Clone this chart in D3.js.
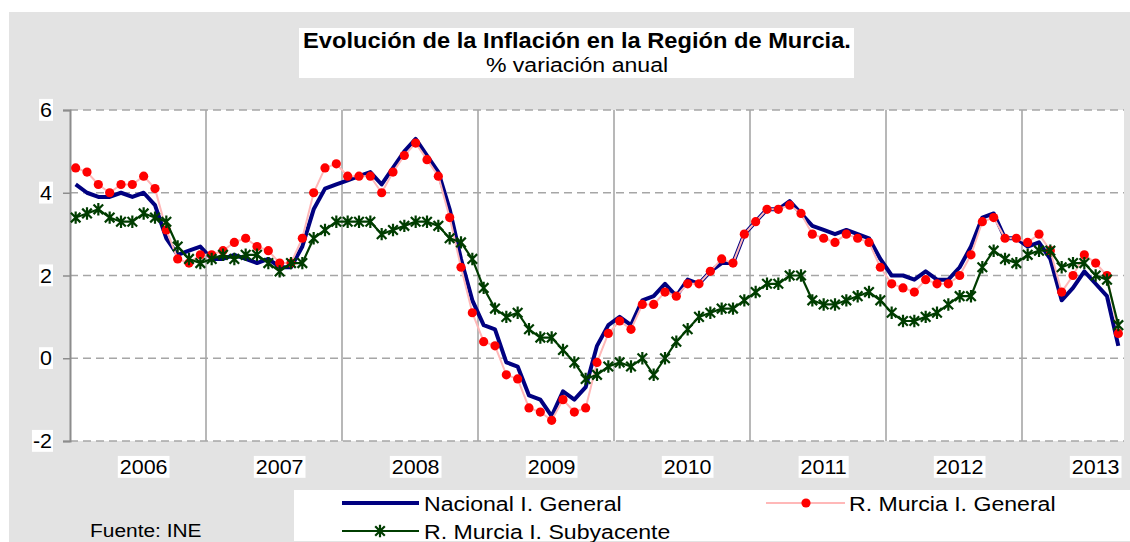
<!DOCTYPE html>
<html><head><meta charset="utf-8">
<script src="https://cdn.jsdelivr.net/npm/d3@7/dist/d3.min.js"></script>
<style>
html,body{margin:0;padding:0;background:#fff;}
svg{display:block;font-family:"Liberation Sans",Arial,sans-serif;}
</style></head>
<body>
<svg id="chart" width="1130" height="542"></svg>
<script>
// ---------- DATA ----------
const years = ["2006","2007","2008","2009","2010","2011","2012","2013"];
const months = ["ene","feb","mar","abr","may","jun","jul","ago","sep","oct","nov","dic"];

const nacional = [
  4.2,4.0,3.9,3.9,4.0,3.9,4.0,3.7,2.9,2.5,2.6,2.7,
  2.4,2.4,2.5,2.4,2.3,2.4,2.2,2.2,2.7,3.6,4.1,4.2,
  4.3,4.4,4.5,4.2,4.6,5.0,5.3,4.9,4.5,3.6,2.4,1.4,
  0.8,0.7,-0.1,-0.2,-0.9,-1.0,-1.4,-0.8,-1.0,-0.7,0.3,0.8,
  1.0,0.8,1.4,1.5,1.8,1.5,1.9,1.8,2.1,2.3,2.3,3.0,
  3.3,3.6,3.6,3.8,3.5,3.2,3.1,3.0,3.1,3.0,2.9,2.4,
  2.0,2.0,1.9,2.1,1.9,1.9,2.2,2.7,3.4,3.5,2.9,2.9,
  2.7,2.8,2.4,1.4,1.7,2.1,1.8,1.5,0.3
];
const murciaGeneral = [
  4.6,4.5,4.2,4.0,4.2,4.2,4.4,4.1,3.1,2.4,2.3,2.5,
  2.5,2.6,2.8,2.9,2.7,2.6,2.3,2.3,2.9,4.0,4.6,4.7,
  4.4,4.4,4.4,4.0,4.5,4.9,5.2,4.8,4.4,3.4,2.2,1.1,
  0.4,0.3,-0.4,-0.5,-1.2,-1.3,-1.5,-1.0,-1.3,-1.2,-0.1,0.6,
  0.9,0.7,1.3,1.3,1.6,1.5,1.8,1.8,2.1,2.4,2.3,3.0,
  3.3,3.6,3.6,3.7,3.5,3.0,2.9,2.8,3.0,2.9,2.8,2.2,
  1.8,1.7,1.6,1.9,1.8,1.8,2.0,2.5,3.3,3.4,2.9,2.9,
  2.8,3.0,2.6,1.6,2.0,2.5,2.3,2.0,0.6
];
const murciaSubyacente = [
  3.4,3.5,3.6,3.4,3.3,3.3,3.5,3.4,3.3,2.7,2.4,2.3,
  2.4,2.5,2.4,2.5,2.5,2.3,2.1,2.3,2.3,2.9,3.1,3.3,
  3.3,3.3,3.3,3.0,3.1,3.2,3.3,3.3,3.2,2.9,2.8,2.4,
  1.7,1.2,1.0,1.1,0.7,0.5,0.5,0.2,-0.1,-0.5,-0.4,-0.2,
  -0.1,-0.2,0.0,-0.4,0.0,0.4,0.7,1.0,1.1,1.2,1.2,1.4,
  1.6,1.8,1.8,2.0,2.0,1.4,1.3,1.3,1.4,1.5,1.6,1.4,
  1.1,0.9,0.9,1.0,1.1,1.3,1.5,1.5,2.2,2.6,2.4,2.3,
  2.5,2.6,2.6,2.2,2.3,2.3,2.0,1.9,0.8
];
const yTicks = [-2,0,2,4,6];
const yTickLabels = ["-2","0","2","4","6"];
const seriesNames = ["Nacional I. General","R. Murcia I. General","R. Murcia I. Subyacente"];
const titleText = "Evolución de la Inflación en la Región de Murcia.";
const subtitleText = "% variación anual";
const sourceText = "Fuente: INE";

const categories = years.flatMap(y => months.map(m => y + "-" + m)).slice(0, nacional.length);

// ---------- STYLE / LAYOUT ----------
const W = 1130, H = 542;
const plot = {l:70, r:1124, t:110, b:441};
const SX = 1.1; // horizontal text stretch of the original picture
const C = {bg:"#e3e3e3", blue:"#000080", pink:"#ffb8b8", red:"#ff0000", green:"#003d00", grid:"#a6a6a6", vgrid:"#b8b8b8", axis:"#8c8c8c"};

const svg = d3.select("#chart");

const x = d3.scaleBand().domain(categories).range([plot.l, plot.r]).padding(0);
const y = d3.scaleLinear().domain([-2, 6]).range([plot.b, plot.t]);
const cx = d => x(d) + x.bandwidth()/2;

function txt(g, px, py, s, size, opts={}) {
  const t = g.append("text")
    .attr("transform", `translate(${px},${py}) scale(${SX},1)`)
    .attr("text-anchor", opts.anchor || "start")
    .attr("font-size", size)
    .attr("font-weight", opts.weight || "normal")
    .attr("fill", opts.fill || "#000")
    .text(s);
  return t;
}
function whiteBox(g, t, pad) {
  const bb = t.node().getBBox();
  const tr = t.node().getCTM();
  const p0 = {x: tr.a*bb.x + tr.e, y: tr.d*bb.y + tr.f};
  const w = bb.width*tr.a, h = bb.height*tr.d;
  g.insert("rect", "text")
    .attr("x", p0.x - pad).attr("y", p0.y)
    .attr("width", w + 2*pad).attr("height", h)
    .attr("fill", "#fff");
}

// background
svg.append("rect").attr("x", 9).attr("y", 12).attr("width", W-9).attr("height", H-12).attr("fill", C.bg);

// title box
svg.append("rect").attr("x", 299).attr("y", 28).attr("width", 555).attr("height", 50).attr("fill", "#fff");
const tg = svg.append("g");
txt(tg, 577, 48, titleText, 21.5, {anchor:"middle", weight:"bold"});
txt(tg, 577, 71.5, subtitleText, 21, {anchor:"middle"});

// plot area
svg.append("rect").attr("x", plot.l).attr("y", plot.t).attr("width", plot.r-plot.l).attr("height", plot.b-plot.t).attr("fill", "#fff");

// vertical year gridlines
const yearStarts = years.slice(1).map(yr => yr + "-ene").filter(c => categories.includes(c));
svg.append("g").selectAll("line").data(yearStarts).join("line")
  .attr("x1", d => x(d)).attr("x2", d => x(d))
  .attr("y1", plot.t).attr("y2", plot.b)
  .attr("stroke", C.vgrid).attr("stroke-width", 2);

// horizontal dashed gridlines
svg.append("g").selectAll("line").data(yTicks).join("line")
  .attr("x1", plot.l).attr("x2", plot.r)
  .attr("y1", d => y(d)).attr("y2", d => y(d))
  .attr("stroke", C.grid).attr("stroke-width", 1.5).attr("stroke-dasharray", "8,5");

// y axis
const yAxisG = svg.append("g").attr("transform", `translate(${plot.l},0)`)
  .call(d3.axisLeft(y).tickValues(yTicks).tickSize(7).tickFormat(""));
yAxisG.select(".domain").attr("stroke", C.axis).attr("stroke-width", 2);
yAxisG.selectAll(".tick line").attr("stroke", C.axis).attr("stroke-width", 1.5);

const ylab = svg.append("g");
yTicks.forEach((v, i) => {
  const t = txt(ylab, 52, y(v) + 7, yTickLabels[i], 19.5, {anchor:"end"});
  whiteBox(ylab, t, 1);
});

// x labels (year under the July category)
const xlab = svg.append("g");
years.forEach(yr => {
  const c = yr + "-jul";
  const t = txt(xlab, cx(c), 474, yr, 19.5, {anchor:"middle"});
  whiteBox(xlab, t, 2);
});

// series
const lineGen = d3.line().x((d,i) => cx(categories[i])).y(d => y(d));

svg.append("path").datum(nacional).attr("d", lineGen)
  .attr("fill", "none").attr("stroke", C.blue).attr("stroke-width", 4).attr("stroke-linejoin", "round");

svg.append("path").datum(murciaGeneral).attr("d", lineGen)
  .attr("fill", "none").attr("stroke", C.pink).attr("stroke-width", 2);
svg.append("g").selectAll("circle").data(murciaGeneral).join("circle")
  .attr("cx", (d,i) => cx(categories[i])).attr("cy", d => y(d)).attr("r", 4.6).attr("fill", C.red);

svg.append("path").datum(murciaSubyacente).attr("d", lineGen)
  .attr("fill", "none").attr("stroke", C.green).attr("stroke-width", 2.2);
function star(g, px, py) {
  const a = 4.8, b = 6.2;
  g.append("path")
    .attr("d", `M${px-a},${py-a}L${px+a},${py+a}M${px-a},${py+a}L${px+a},${py-a}M${px},${py-b}L${px},${py+b}`)
    .attr("stroke", C.green).attr("stroke-width", 2.2).attr("fill", "none");
}
const sg = svg.append("g");
murciaSubyacente.forEach((v,i) => star(sg, cx(categories[i]), y(v)));

// legend
svg.append("rect").attr("x", 294).attr("y", 490).attr("width", W-294).attr("height", 51).attr("fill", "#fff");
const lg = svg.append("g");
lg.append("line").attr("x1", 342).attr("x2", 419).attr("y1", 503).attr("y2", 503).attr("stroke", C.blue).attr("stroke-width", 4);
txt(lg, 424, 510.5, seriesNames[0], 21);
lg.append("line").attr("x1", 766).attr("x2", 845).attr("y1", 503).attr("y2", 503).attr("stroke", C.pink).attr("stroke-width", 2);
lg.append("circle").attr("cx", 806).attr("cy", 503).attr("r", 4.6).attr("fill", C.red);
txt(lg, 849, 510.5, seriesNames[1], 21);
lg.append("line").attr("x1", 342).attr("x2", 419).attr("y1", 531).attr("y2", 531).attr("stroke", C.green).attr("stroke-width", 2.2);
star(lg, 380, 531);
txt(lg, 424, 538.5, seriesNames[2], 21);

// source
txt(svg.append("g"), 90, 537, sourceText, 19);
</script>
</body></html>
